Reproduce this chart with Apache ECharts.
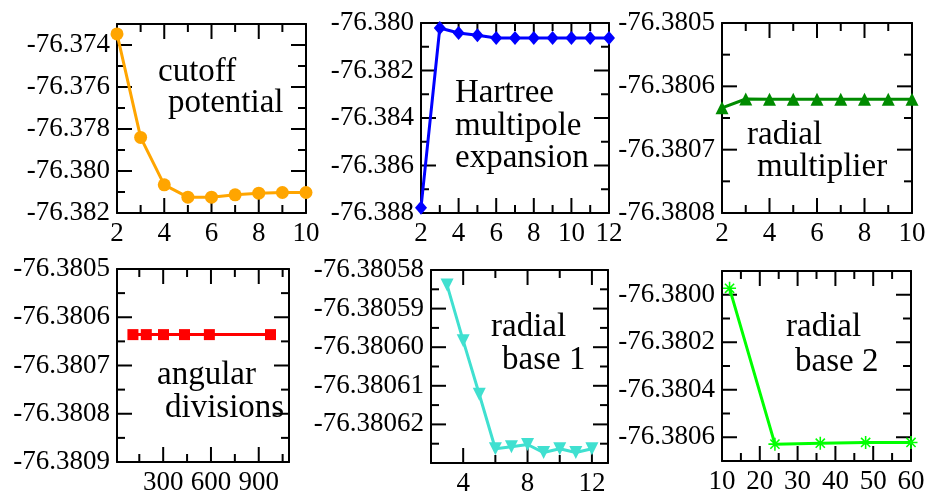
<!DOCTYPE html>
<html>
<head>
<meta charset="utf-8">
<script src="https://cdn.jsdelivr.net/npm/echarts@6/dist/echarts.min.js"></script>
<style>
  html, body { margin: 0; padding: 0; background: #fff; }
  #chart { width: 929px; height: 492px; }
</style>
</head>
<body>
<div id="chart"></div>
<script>
// panel 1: cutoff potential
const p1X = [2, 3, 4, 5, 6, 7, 8, 9, 10];
const p1Y = [-76.373474, -76.37840, -76.38066, -76.381246, -76.381246, -76.381136, -76.381057, -76.381025, -76.381025];
const p1XLabels = [2, 4, 6, 8, 10];
const p1XMinor = [3, 5, 7, 9];
const p1YLabels = [-76.382, -76.380, -76.378, -76.376, -76.374];
const p1YMinor = [-76.381, -76.379, -76.377, -76.375];

// panel 2: Hartree multipole expansion
const p2X = [2, 3, 4, 5, 6, 7, 8, 9, 10, 11, 12];
const p2Y = [-76.387775, -76.380211, -76.38042, -76.38052, -76.380634, -76.380634, -76.380634, -76.380634, -76.380634, -76.380634, -76.380634];
const p2XLabels = [2, 4, 6, 8, 10, 12];
const p2XMinor = [3, 5, 7, 9, 11];
const p2YLabels = [-76.388, -76.386, -76.384, -76.382, -76.380];
const p2YMinor = [-76.387, -76.385, -76.383, -76.381];

// panel 3: radial multiplier
const p3X = [2, 3, 4, 5, 6, 7, 8, 9, 10];
const p3Y = [-76.380634, -76.380620, -76.3806205, -76.3806205, -76.3806205, -76.3806205, -76.3806205, -76.3806205, -76.3806205];
const p3XLabels = [2, 4, 6, 8, 10];
const p3XMinor = [3, 5, 7, 9];
const p3YLabels = [-76.3808, -76.3807, -76.3806, -76.3805];
const p3YMinor = [-76.38075, -76.38065, -76.38055];

// panel 4: angular divisions
const p4X = [110, 194, 302, 434, 590, 974];
const p4Y = [-76.380636, -76.380636, -76.380636, -76.380636, -76.380636, -76.380636];
const p4XLabels = [300, 600, 900];
const p4XMinor = [150, 450, 750, 1050];
const p4YLabels = [-76.3809, -76.3808, -76.3807, -76.3806, -76.3805];
const p4YMinor = [-76.38085, -76.38075, -76.38065, -76.38055];

// panel 5: radial base 1
const p5X = [3, 4, 5, 6, 7, 8, 9, 10, 11, 12];
const p5Y = [-76.3805839, -76.3805983, -76.3806122, -76.3806263, -76.3806258, -76.3806252, -76.3806273, -76.3806263, -76.3806273, -76.3806263];
const p5XLabels = [4, 8, 12];
const p5XMinor = [6, 10];
const p5YLabels = [-76.38062, -76.38061, -76.38060, -76.38059, -76.38058];
const p5YMinor = [-76.380625, -76.380615, -76.380605, -76.380595, -76.380585];

// panel 6: radial base 2
const p6X = [12, 24, 36, 48, 60];
const p6Y = [-76.379973, -76.380629, -76.380625, -76.380622, -76.380622];
const p6XLabels = [10, 20, 30, 40, 50, 60];
const p6XMinor = [15, 25, 35, 45, 55];
const p6YLabels = [-76.3806, -76.3804, -76.3802, -76.3800];
const p6YMinor = [-76.3807, -76.3805, -76.3803, -76.3801, -76.3799];

const FONT = 'Liberation Serif';
const BIG = 15, SMALL = 8;

const panels = [
  { grid: { left: 117, top: 24, width: 189, height: 189 },
    x: { min: 2, max: 10, labels: p1XLabels, minor: p1XMinor, dec: 0 },
    y: { min: -76.382, max: -76.373, labels: p1YLabels, minor: p1YMinor, dec: 3 },
    xs: p1X, ys: p1Y, color: '#ffa500', symbol: 'circle', size: 13 },
  { grid: { left: 421, top: 23, width: 188, height: 190 },
    x: { min: 2, max: 12, labels: p2XLabels, minor: p2XMinor, dec: 0 },
    y: { min: -76.388, max: -76.380, labels: p2YLabels, minor: p2YMinor, dec: 3 },
    xs: p2X, ys: p2Y, color: '#0000ff', symbol: 'diamond', size: [12, 14] },
  { grid: { left: 722, top: 23, width: 190, height: 190 },
    x: { min: 2, max: 10, labels: p3XLabels, minor: p3XMinor, dec: 0 },
    y: { min: -76.3808, max: -76.3805, labels: p3YLabels, minor: p3YMinor, dec: 4 },
    xs: p3X, ys: p3Y, color: '#008b00', symbol: 'triangle', size: 13 },
  { grid: { left: 117, top: 269, width: 172, height: 193 },
    x: { min: 10, max: 1090, labels: p4XLabels, minor: p4XMinor, dec: 0 },
    y: { min: -76.3809, max: -76.3805, labels: p4YLabels, minor: p4YMinor, dec: 4 },
    xs: p4X, ys: p4Y, color: '#ff0000', symbol: 'rect', size: 11 },
  { grid: { left: 431, top: 270, width: 177, height: 193 },
    x: { min: 2, max: 13, labels: p5XLabels, minor: p5XMinor, dec: 0 },
    y: { min: -76.38063, max: -76.38058, labels: p5YLabels, minor: p5YMinor, dec: 5 },
    xs: p5X, ys: p5Y, color: '#40e0d0', symbol: 'triangle', rotate: 180, size: 13 },
  { grid: { left: 722, top: 271, width: 189, height: 190 },
    x: { min: 10, max: 60, labels: p6XLabels, minor: p6XMinor, dec: 0 },
    y: { min: -76.3807, max: -76.3799, labels: p6YLabels, minor: p6YMinor, dec: 4 },
    xs: p6X, ys: p6Y, color: '#00ff00',
    symbol: 'path://M-1.2,-10L1.2,-10L1.2,10L-1.2,10Z M-10,-1.2L10,-1.2L10,1.2L-10,1.2Z M-6.2,-7.9L7.9,6.2L6.2,7.9L-7.9,-6.2Z M6.2,-7.9L7.9,-6.2L-6.2,7.9L-7.9,6.2Z',
    size: 13 }
];

const notes = [
  { text: 'cutoff', x: 158, y: 82 },
  { text: 'potential', x: 168, y: 113 },
  { text: 'Hartree', x: 455, y: 103 },
  { text: 'multipole', x: 455, y: 136 },
  { text: 'expansion', x: 455, y: 168 },
  { text: 'radial', x: 747, y: 145 },
  { text: 'multiplier', x: 757, y: 177 },
  { text: 'angular', x: 157, y: 385 },
  { text: 'divisions', x: 165, y: 418 },
  { text: 'radial', x: 491, y: 337 },
  { text: 'base 1', x: 502, y: 370 },
  { text: 'radial', x: 786, y: 337 },
  { text: 'base 2', x: 795, y: 372 }
];

function axis(gi, r, pos, withLabels) {
  return {
    type: 'value', gridIndex: gi, position: pos, min: r.min, max: r.max,
    splitLine: { show: false },
    axisLine: { show: true, onZero: false, lineStyle: { color: '#000', width: 2 } },
    axisTick: { show: false },
    axisLabel: withLabels ? {
      show: true, customValues: r.labels, margin: 7, hideOverlap: false,
      color: '#000', fontFamily: FONT, fontSize: 27,
      formatter: v => v.toFixed(r.dec)
    } : { show: false }
  };
}

// inward ticks on all four sides, placed through the axes' own scales
function tickRenderer(p) {
  return function (params, api) {
    const v = api.value(0);
    const len = api.value(1) ? SMALL : BIG;
    const st = { stroke: '#000', lineWidth: 2 };
    if (api.value(2) === 0) {
      const lo = api.coord([v, p.y.min]), hi = api.coord([v, p.y.max]);
      return { type: 'group', children: [
        { type: 'line', shape: { x1: lo[0], y1: lo[1], x2: lo[0], y2: lo[1] - len }, style: st },
        { type: 'line', shape: { x1: hi[0], y1: hi[1], x2: hi[0], y2: hi[1] + len }, style: st }
      ] };
    }
    const l = api.coord([p.x.min, v]), r = api.coord([p.x.max, v]);
    return { type: 'group', children: [
      { type: 'line', shape: { x1: l[0], y1: l[1], x2: l[0] + len, y2: l[1] }, style: st },
      { type: 'line', shape: { x1: r[0], y1: r[1], x2: r[0] - len, y2: r[1] }, style: st }
    ] };
  };
}

const grids = [], xAxes = [], yAxes = [], series = [];
panels.forEach((p, i) => {
  grids.push(Object.assign({ outerBoundsMode: 'none' }, p.grid));
  const xi = xAxes.length, yi = yAxes.length;
  xAxes.push(axis(i, p.x, 'bottom', true));
  xAxes.push(axis(i, p.x, 'top', false));
  yAxes.push(axis(i, p.y, 'left', true));
  yAxes.push(axis(i, p.y, 'right', false));
  const ticks = []
    .concat(p.x.labels.map(v => [v, 0, 0]), p.x.minor.map(v => [v, 1, 0]))
    .concat(p.y.labels.map(v => [v, 0, 1]), p.y.minor.map(v => [v, 1, 1]));
  series.push({
    type: 'custom', xAxisIndex: xi, yAxisIndex: yi, z: 3, silent: true, clip: false,
    dimensions: ['v', 'kind', 'dir'],
    encode: { x: 0, y: 1 },
    renderItem: tickRenderer(p),
    data: ticks
  });
  series.push({
    type: 'line', xAxisIndex: xi, yAxisIndex: yi,
    data: p.xs.map((x, k) => [x, p.ys[k]]),
    symbol: p.symbol, symbolSize: p.size, symbolRotate: p.rotate || 0,
    showAllSymbol: true, clip: false, z: 5,
    itemStyle: { color: p.color, opacity: 1 },
    lineStyle: { color: p.color, width: 3 }
  });
});

const chart = echarts.init(document.getElementById('chart'), null, { renderer: 'canvas' });
chart.setOption({
  animation: false,
  backgroundColor: '#fff',
  grid: grids,
  xAxis: xAxes,
  yAxis: yAxes,
  series: series,
  graphic: notes.map(n => ({
    type: 'text', z: 10,
    style: {
      text: n.text, x: n.x, y: n.y - 10,
      font: '33px "Liberation Serif"', fill: '#000',
      align: 'left', verticalAlign: 'middle'
    }
  }))
});
</script>
</body>
</html>
